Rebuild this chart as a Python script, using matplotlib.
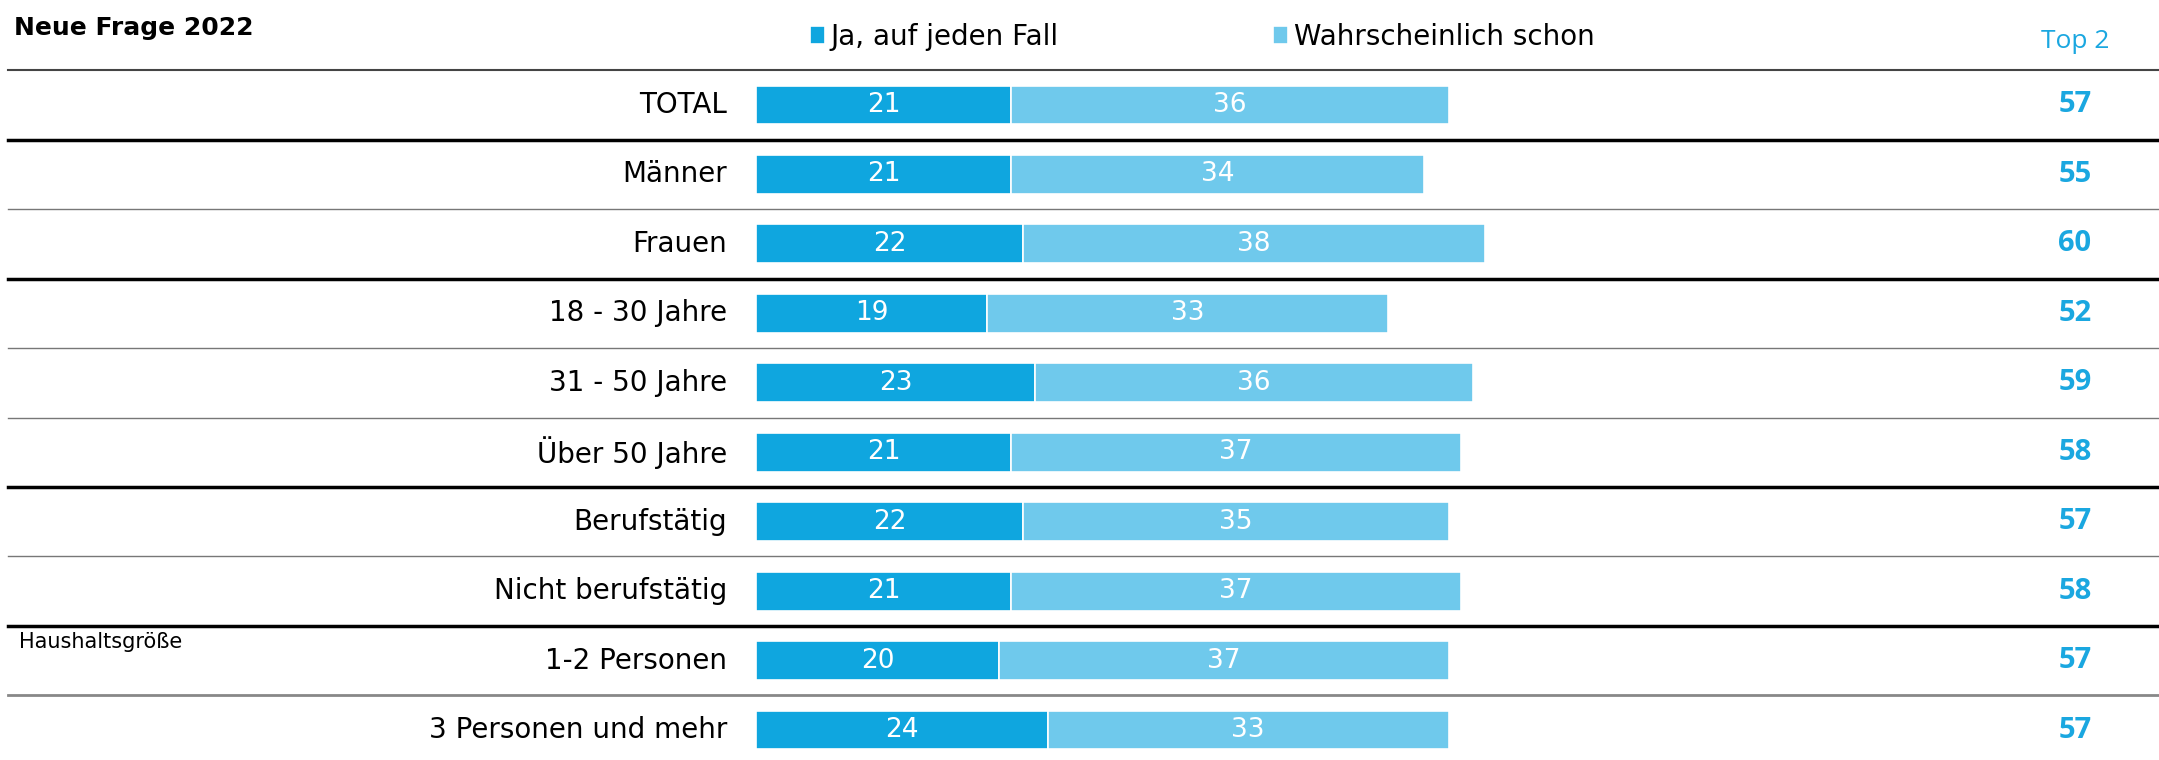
import matplotlib.pyplot as plt

plt.rcParams['font.family'] = ['DejaVu Sans']

categories = ["TOTAL", "Männer", "Frauen", "18 - 30 Jahre", "31 - 50 Jahre",
              "Über 50 Jahre", "Berufstätig", "Nicht berufstätig",
              "1-2 Personen", "3 Personen und mehr"]
ja = [21, 21, 22, 19, 23, 21, 22, 21, 20, 24]
wahrscheinlich = [36, 34, 38, 33, 36, 37, 35, 37, 37, 33]
top2 = [57, 55, 60, 52, 59, 58, 57, 58, 57, 57]
series_names = ["Ja, auf jeden Fall", "Wahrscheinlich schon"]
thick_after = [0, 2, 5, 7]   # rows followed by a black group line

dark = '#0fa6df'
light = '#6fc9ec'
blue_txt = '#1aa7e0'

W, H = 2159, 760
fig = plt.figure(figsize=(W / 100, H / 100), dpi=100)
ax = fig.add_axes([0, 0, 1, 1])
ax.axis('off')

# layout: pixels per percent, bar start and row pitch in pixels
unit = 12.15
bar_x0 = 756
pitch = 69.45
row0 = 105
ax.set_xlim(-bar_x0 / unit, (W - bar_x0) / unit)
ax.set_ylim((H - row0) / pitch, -row0 / pitch)

rows = list(range(len(categories)))
b1 = ax.barh(rows, ja, height=0.56, color=dark, edgecolor='white', linewidth=1.2)
b2 = ax.barh(rows, wahrscheinlich, left=ja, height=0.56, color=light,
             edgecolor='white', linewidth=1.2)
ax.bar_label(b1, label_type='center', color='white', fontsize=19)
ax.bar_label(b2, label_type='center', color='white', fontsize=19)

for i, cat in enumerate(categories):
    ax.text(-29 / unit, i, cat, ha='right', va='center', fontsize=20)
    ax.text((2075 - bar_x0) / unit, i, str(top2[i]), ha='center', va='center',
            fontsize=21, fontweight='bold', color=blue_txt, family='Open Sans')

# separator lines
xmin = 8 / W
ax.axhline(-0.5, xmin=xmin, xmax=1, color='#444444', lw=1.5)
for i in range(len(categories) - 1):
    if i in thick_after:
        ax.axhline(i + 0.5, xmin=xmin, xmax=1, color='black', lw=2.5)
    elif i == len(categories) - 2:
        ax.axhline(i + 0.5, xmin=xmin, xmax=1, color='#888888', lw=2)
    else:
        ax.axhline(i + 0.5, xmin=xmin, xmax=1, color='#777777', lw=1)

ax.text((2075 - bar_x0) / unit, (42 - row0) / pitch, "Top 2", ha='center',
        va='center', fontsize=19, color=blue_txt, family='Open Sans')

fig.text(14 / W, 1 - 28 / H, "Neue Frage 2022", ha='left', va='center',
         fontsize=18, fontweight='bold')
fig.text(19 / W, 1 - 642 / H, "Haushaltsgröße", ha='left', va='center',
         fontsize=15)

fig.legend([b1, b2], series_names, loc='center left',
           bbox_to_anchor=(810 / W, 1 - 37 / H), ncol=2, frameon=False,
           fontsize=20, handlelength=0.55, handleheight=0.6,
           handletextpad=0.2, columnspacing=7.7, borderpad=0, borderaxespad=0)

fig.savefig('out.png', dpi=100)
